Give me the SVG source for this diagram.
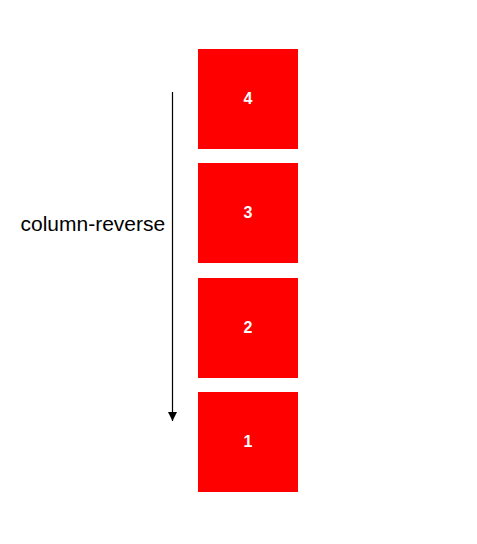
<svg xmlns="http://www.w3.org/2000/svg" width="477" height="544" viewBox="0 0 477 544">
<defs>
<style>
.box{fill:#ff0000}
.num{font-family:"Liberation Sans",Arial,sans-serif;font-size:16px;font-weight:bold;fill:#ffffff;text-anchor:middle}
.lbl{font-family:"Liberation Sans",Arial,sans-serif;font-size:21px;fill:#000000}
</style>
<marker id="ah" markerWidth="10" markerHeight="10" refX="9" refY="4.5" orient="auto" markerUnits="userSpaceOnUse">
<path d="M0,0 L9,4.5 L0,9 Z" fill="#000"/>
</marker>
</defs>
<rect width="477" height="544" fill="#fff"/>
<g id="connectors">
<line x1="172.5" y1="92" x2="172.5" y2="421" stroke="#000" stroke-width="1.2" marker-end="url(#ah)"/>
</g>
<text class="lbl" x="20.5" y="231">column-reverse</text>
<g id="item4"><rect class="box" x="198" y="49" width="100" height="100"/><text class="num" x="248" y="104">4</text></g>
<g id="item3"><rect class="box" x="198" y="163" width="100" height="100"/><text class="num" x="248" y="218">3</text></g>
<g id="item2"><rect class="box" x="198" y="278" width="100" height="100"/><text class="num" x="248" y="333">2</text></g>
<g id="item1"><rect class="box" x="198" y="392" width="100" height="100"/><text class="num" x="248" y="447">1</text></g>
</svg>
